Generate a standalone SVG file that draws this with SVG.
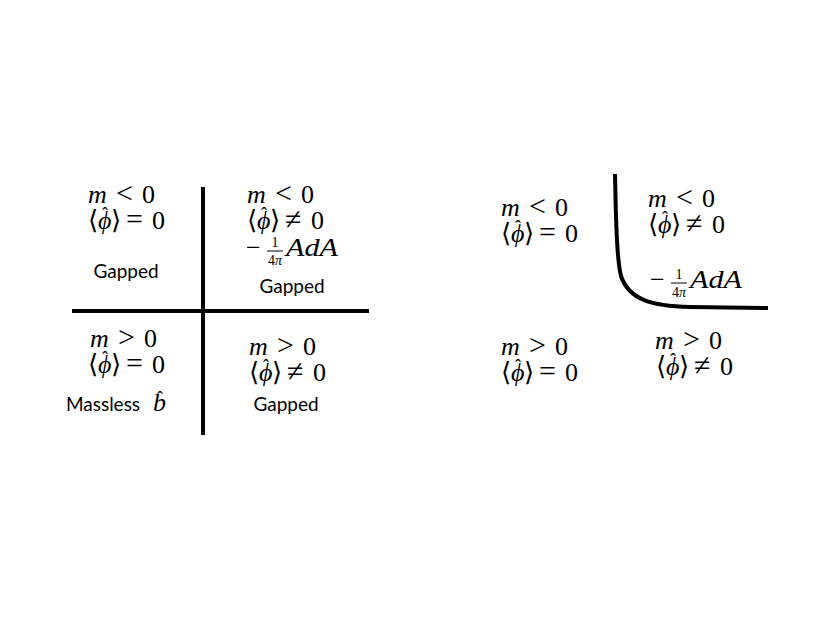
<svg xmlns="http://www.w3.org/2000/svg" width="830" height="623" viewBox="0 0 830 623">
<style>
.eq{font-family:"Liberation Serif","DejaVu Serif",serif;font-size:26px;fill:#000}
.i{font-style:italic}
.r{font-size:30px}
.hat{font-family:"Liberation Serif","DejaVu Serif",serif;font-size:18px;fill:#000;text-anchor:middle}
.fr{font-family:"Liberation Serif","DejaVu Serif",serif;font-size:14px;fill:#000;text-anchor:middle}
.lb{font-family:Lato,"Liberation Sans",sans-serif;font-size:19px;fill:#000;text-anchor:middle}
.ln{stroke:#000;stroke-width:4;fill:none}
.fl{stroke:#000;stroke-width:1}
</style>
<defs>
<g id="mlt"><text class="eq"><tspan class="i" x="0">m</tspan><tspan class="r" x="28">&lt;</tspan><tspan x="54">0</tspan></text></g>
<g id="mgt"><text class="eq"><tspan class="i" x="0">m</tspan><tspan class="r" x="28">&gt;</tspan><tspan x="54">0</tspan></text></g>
<g id="peq"><text class="eq"><tspan x="0">⟨</tspan><tspan class="i" x="10">ϕ</tspan><tspan x="23">⟩</tspan><tspan class="r" x="38">=</tspan><tspan x="64">0</tspan></text><text class="hat" x="17" y="-9">ˆ</text></g>
<g id="pne"><text class="eq"><tspan x="0">⟨</tspan><tspan class="i" x="10">ϕ</tspan><tspan x="23">⟩</tspan><tspan class="r" x="38">≠</tspan><tspan x="64">0</tspan></text><text class="hat" x="17" y="-9">ˆ</text></g>
<g id="cs"><text class="eq" x="0">−</text><text class="fr" x="29" y="-9">1</text><line class="fl" x1="21" y1="-5" x2="37" y2="-5"/><text class="fr" x="29" y="9">4<tspan class="i">π</tspan></text><text class="eq i" x="40" textLength="52" lengthAdjust="spacingAndGlyphs">AdA</text></g>
</defs>
<g id="connectors">
<line class="ln" x1="203" y1="187" x2="203" y2="435"/>
<line class="ln" x1="72" y1="311" x2="369" y2="311"/>
<path class="ln" d="M615,174 C616,225 617,260 621,276 C629,300 652,306 690,307 L768,308"/>
</g>
<g id="q-top-left">
<use href="#mlt" x="88" y="203"/>
<use href="#peq" x="88" y="229"/>
<text class="lb" x="126" y="278">Gapped</text>
</g>
<g id="q-top-right">
<use href="#mlt" x="247" y="203"/>
<use href="#pne" x="247" y="229"/>
<use href="#cs" x="246" y="256"/>
<text class="lb" x="292" y="293">Gapped</text>
</g>
<g id="q-bottom-left">
<use href="#mgt" x="90" y="347"/>
<use href="#peq" x="88" y="373"/>
<text class="lb" x="103" y="411">Massless</text>
<text class="eq i" x="153" y="411">b</text><text class="hat" x="160" y="404">ˆ</text>
</g>
<g id="q-bottom-right">
<use href="#mgt" x="249" y="355"/>
<use href="#pne" x="249" y="381"/>
<text class="lb" x="286" y="411">Gapped</text>
</g>
<g id="r-top-left">
<use href="#mlt" x="501" y="216"/>
<use href="#peq" x="501" y="242"/>
</g>
<g id="r-top-right">
<use href="#mlt" x="648" y="207"/>
<use href="#pne" x="648" y="233"/>
<use href="#cs" x="650" y="288"/>
</g>
<g id="r-bottom-left">
<use href="#mgt" x="501" y="355"/>
<use href="#peq" x="501" y="381"/>
</g>
<g id="r-bottom-right">
<use href="#mgt" x="655" y="349"/>
<use href="#pne" x="656" y="375"/>
</g>
</svg>
